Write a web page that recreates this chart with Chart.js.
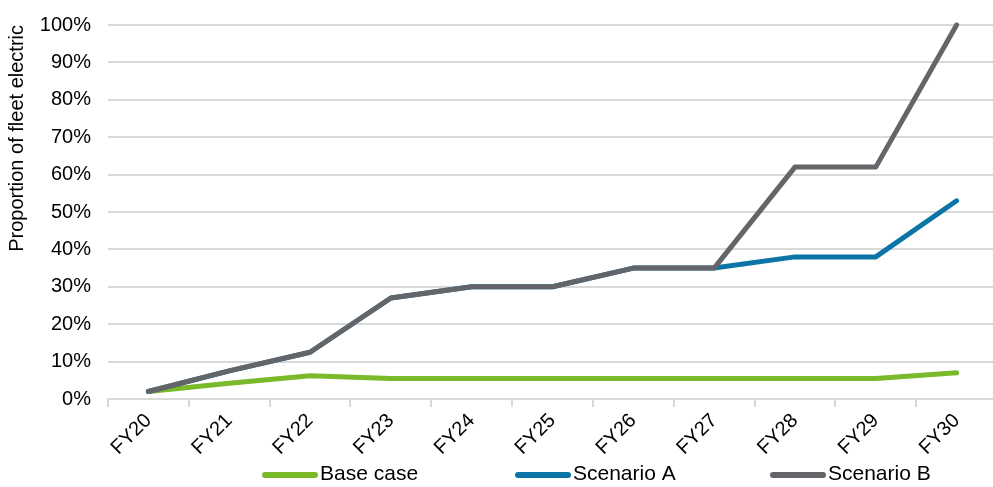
<!DOCTYPE html>
<html>
<head>
<meta charset="utf-8">
<script src="https://cdn.jsdelivr.net/npm/chart.js@4/dist/chart.umd.min.js"></script>
<style>
  html, body { margin: 0; padding: 0; background: #fff; overflow: hidden; }
  #wrap { width: 993px; height: 487px; overflow: hidden; }
  canvas { display: block; }
</style>
</head>
<body>
<div id="wrap"><canvas id="chart" width="997" height="487"></canvas></div>
<script>
// Fleet electrification pathway, FY20–FY30 (percent of fleet)
const years = ['FY20', 'FY21', 'FY22', 'FY23', 'FY24', 'FY25', 'FY26', 'FY27', 'FY28', 'FY29', 'FY30'];
const baseCase  = [2, 4.2, 6.2, 5.5, 5.5, 5.5, 5.5, 5.5, 5.5, 5.5, 7];
const scenarioA = [2, 7.5, 12.5, 27, 30, 30, 35, 35, 38, 38, 53];
const scenarioB = [2, 7.5, 12.5, 27, 30, 30, 35, 35, 62, 62, 100];
const yTicks = [0, 10, 20, 30, 40, 50, 60, 70, 80, 90, 100];

const GREEN = '#7ab929';
const BLUE = '#0a75a6';
const GREY = '#636569';
const GRID = '#d9d9d9';
const FONT = 'Arial, "Liberation Sans", sans-serif';

Chart.defaults.font.family = FONT;
Chart.defaults.color = '#000';

// legend drawn as a row of long line swatches under the axis labels
const lineLegend = {
  id: 'lineLegend',
  afterDraw(chart) {
    const ctx = chart.ctx;
    const y = 475;
    const swatch = 56;
    const starts = [262, 515, 770];
    const items = [0, 1, 2].map(i => chart.data.datasets.find(d => d.legendIndex === i));
    ctx.save();
    ctx.font = '21px ' + FONT;
    ctx.textBaseline = 'middle';
    ctx.textAlign = 'left';
    items.forEach((ds, i) => {
      const x = starts[i];
      ctx.strokeStyle = ds.borderColor;
      ctx.lineWidth = 6;
      ctx.lineCap = 'round';
      ctx.beginPath();
      ctx.moveTo(x + 3, y);
      ctx.lineTo(x + swatch - 3, y);
      ctx.stroke();
      ctx.fillStyle = '#000';
      ctx.fillText(ds.label, x + swatch + 2, y - 1);
    });
    ctx.restore();
  }
};

new Chart(document.getElementById('chart'), {
  type: 'line',
  data: {
    labels: years,
    datasets: [
      { label: 'Scenario B', data: scenarioB, borderColor: GREY, backgroundColor: GREY, order: 0, legendIndex: 2 },
      { label: 'Scenario A', data: scenarioA, borderColor: BLUE, backgroundColor: BLUE, order: 1, legendIndex: 1 },
      { label: 'Base case', data: baseCase, borderColor: GREEN, backgroundColor: GREEN, order: 2, legendIndex: 0 }
    ]
  },
  options: {
    responsive: false,
    animation: false,
    devicePixelRatio: 1,
    layout: { padding: { top: 25, right: 0, bottom: 0, left: 0 } },
    datasets: { line: { clip: false } },
    elements: {
      line: { borderWidth: 5, tension: 0, borderJoinStyle: 'round', borderCapStyle: 'round', fill: false },
      point: { radius: 0, hoverRadius: 0 }
    },
    plugins: {
      legend: { display: false },
      tooltip: { enabled: false }
    },
    scales: {
      x: {
        offset: true,
        grid: { offset: true, drawOnChartArea: false, drawTicks: true, tickLength: 8, color: GRID, lineWidth: 2 },
        border: { display: true, color: GRID, width: 2 },
        ticks: { minRotation: 45, maxRotation: 45, padding: 2, font: { size: 20 }, color: '#000' },
        afterFit(scale) { scale.height = 88; }
      },
      y: {
        min: 0,
        max: 100,
        afterBuildTicks(scale) { scale.ticks = yTicks.map(v => ({ value: v })); },
        grid: { drawTicks: false, color: GRID, lineWidth: 2 },
        border: { display: false },
        ticks: { padding: 17, font: { size: 20 }, color: '#000', callback: v => v + '%' },
        title: { display: true, text: 'Proportion of fleet electric', align: 'end', font: { size: 20 }, color: '#000', padding: { top: 5, bottom: 0 } },
        afterFit(scale) {
          scale.width = 108;
          scale.paddingTop = 0;
          scale.paddingBottom = 0;
        }
      }
    }
  },
  plugins: [lineLegend]
});
</script>
</body>
</html>
